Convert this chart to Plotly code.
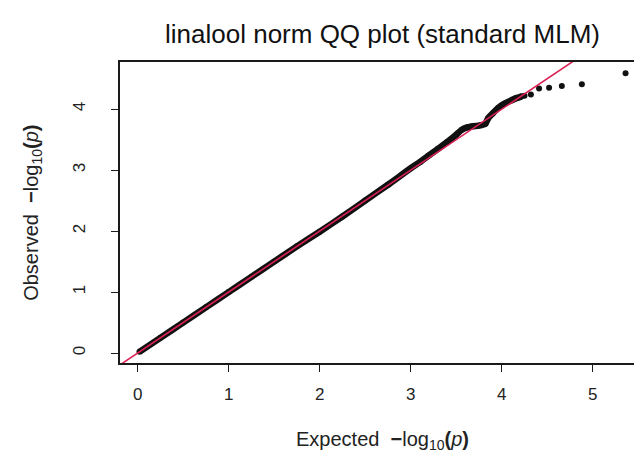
import plotly.graph_objects as go

# ---- data ----
# bulk of the QQ points (dense band along the diagonal)
bulk_expected = [0.02, 0.25, 0.5, 0.75, 1.0, 1.25, 1.5, 1.75, 2.0, 2.25, 2.5, 2.75,
                 3.0, 3.1, 3.2, 3.3, 3.4, 3.5, 3.56, 3.62, 3.68, 3.75, 3.82, 3.85,
                 3.9, 3.96, 4.03, 4.1, 4.16, 4.22]
bulk_observed = [0.02, 0.25, 0.5, 0.75, 1.0, 1.25, 1.5, 1.75, 1.99, 2.24, 2.5, 2.76,
                 3.03, 3.13, 3.24, 3.35, 3.46, 3.58, 3.66, 3.7, 3.72, 3.73, 3.76, 3.85,
                 3.93, 4.02, 4.09, 4.14, 4.18, 4.21]
# isolated top tail points
tail_expected = [4.25, 4.32, 4.41, 4.52, 4.66, 4.88, 5.36]
tail_observed = [4.22, 4.24, 4.34, 4.35, 4.38, 4.41, 4.59]

x_ticks = [0, 1, 2, 3, 4, 5]
y_ticks = [0, 1, 2, 3, 4]

ref_intercept = 0.0
ref_slope = 1.0

title_text = "linalool norm QQ plot (standard MLM)"
xlab = "Expected  <b>\u2212</b>log<sub>10</sub><b>(</b><i>p</i><b>)</b>"
ylab = "Observed  <b>\u2212</b>log<sub>10</sub><b>(</b><i>p</i><b>)</b>"

# R-style 4% axis extension
all_x = bulk_expected + tail_expected
all_y = bulk_observed + tail_observed
xmin, xmax = min(all_x), max(all_x)
ymin, ymax = min(all_y), max(all_y)
xr = [xmin - 0.04 * (xmax - xmin), xmax + 0.04 * (xmax - xmin)]
yr = [ymin - 0.04 * (ymax - ymin), ymax + 0.04 * (ymax - ymin)]

fig = go.Figure()
fig.add_trace(go.Scatter(
    x=bulk_expected, y=bulk_observed, mode="lines",
    line=dict(color="#111111", width=6.5, shape="spline", smoothing=0.6),
    hoverinfo="skip", showlegend=False))
fig.add_trace(go.Scatter(
    x=bulk_expected + tail_expected, y=bulk_observed + tail_observed, mode="markers",
    marker=dict(color="#111111", size=6),
    showlegend=False))
ref_x = [xr[0] - 1, xr[1] + 1]
ref_y = [ref_intercept + ref_slope * v for v in ref_x]
fig.add_trace(go.Scatter(
    x=ref_x, y=ref_y, mode="lines",
    line=dict(color="#DC2155", width=1.6),
    hoverinfo="skip", showlegend=False))

font_family = "Liberation Sans, Arial, sans-serif"
axis_common = dict(
    showgrid=False, zeroline=False, showline=True, mirror=True,
    linecolor="#1a1a1a", linewidth=1.5,
    ticks="outside", ticklen=7, tickwidth=1.3, tickcolor="#1a1a1a",
    tickfont=dict(family=font_family, size=17, color="#222222"),
)
fig.update_layout(
    width=642, height=454,
    paper_bgcolor="white", plot_bgcolor="white",
    margin=dict(l=112, r=3, t=54, b=99),
    title=dict(text=title_text, x=0.5, xref="paper", y=1 - 26 / 454,
               yref="container", xanchor="center", yanchor="middle",
               font=dict(family=font_family, size=26, color="#111111")),
    xaxis=dict(range=xr, tickvals=x_ticks, ticklabelstandoff=8, **axis_common),
    yaxis=dict(range=yr, tickvals=y_ticks, tickangle=-90, ticklabelstandoff=19,
               **axis_common),
    annotations=[
        dict(text=xlab, x=0.5, xref="paper", y=-(432 - 355) / 301, yref="paper",
             xanchor="center", yanchor="middle", showarrow=False,
             font=dict(family=font_family, size=20, color="#222222")),
        dict(text=ylab, x=(24 - 112) / 527, xref="paper", y=0.5, yref="paper",
             xanchor="center", yanchor="middle", textangle=-90, showarrow=False,
             font=dict(family=font_family, size=20, color="#222222")),
    ],
)

fig.write_html("out.html")
